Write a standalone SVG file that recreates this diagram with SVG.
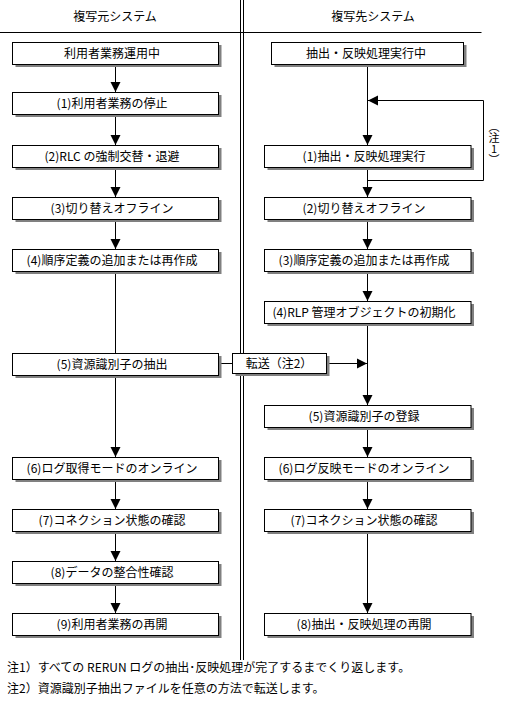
<svg xmlns="http://www.w3.org/2000/svg" width="509" height="713" viewBox="0 0 509 713">
<style>
text{font-family:"Noto Sans CJK JP","Noto Sans",sans-serif;font-size:12px;fill:#000}
.c{text-anchor:middle}
.box{fill:#fff;stroke:#000;stroke-width:1}
.sh{fill:#808080}
.ln{stroke:#000;stroke-width:1;fill:none}
.ah{fill:#000}
</style>
<defs>
<g id="shL"><rect class="sh" x="15.5" y="3" width="206" height="22"/><rect class="box" x="12.5" y="0.5" width="206" height="22"/></g>
<g id="shR"><rect class="sh" x="267.5" y="3" width="206.5" height="22"/><rect class="box" x="264.5" y="0.5" width="206.5" height="22"/></g>
</defs>
<rect width="509" height="713" fill="#fff"/>
<g id="frame">
<line class="ln" x1="0" y1="32.5" x2="481.5" y2="32.5"/>
<line class="ln" x1="240.5" y1="0" x2="240.5" y2="660"/>
<line class="ln" x1="243.5" y1="0" x2="243.5" y2="660"/>
<text class="c" x="115" y="21">複写元システム</text>
<text class="c" x="373" y="21">複写先システム</text>
</g>
<g id="connectors">
<line class="ln" x1="115.5" y1="64" x2="115.5" y2="92"/>
<line class="ln" x1="115.5" y1="114" x2="115.5" y2="145"/>
<line class="ln" x1="115.5" y1="167" x2="115.5" y2="197"/>
<line class="ln" x1="115.5" y1="219" x2="115.5" y2="249"/>
<line class="ln" x1="115.5" y1="271" x2="115.5" y2="353"/>
<line class="ln" x1="115.5" y1="375" x2="115.5" y2="457"/>
<line class="ln" x1="115.5" y1="479" x2="115.5" y2="509"/>
<line class="ln" x1="115.5" y1="531" x2="115.5" y2="561"/>
<line class="ln" x1="115.5" y1="583" x2="115.5" y2="613"/>
<polygon class="ah" points="110.5,82 120.5,82 115.5,92"/>
<polygon class="ah" points="110.5,135 120.5,135 115.5,145"/>
<polygon class="ah" points="110.5,187 120.5,187 115.5,197"/>
<polygon class="ah" points="110.5,239 120.5,239 115.5,249"/>
<polygon class="ah" points="110.5,447 120.5,447 115.5,457"/>
<polygon class="ah" points="110.5,499 120.5,499 115.5,509"/>
<polygon class="ah" points="110.5,551 120.5,551 115.5,561"/>
<polygon class="ah" points="110.5,603 120.5,603 115.5,613"/>
<line class="ln" x1="367.5" y1="64" x2="367.5" y2="145"/>
<line class="ln" x1="367.5" y1="167" x2="367.5" y2="197"/>
<line class="ln" x1="367.5" y1="219" x2="367.5" y2="249"/>
<line class="ln" x1="367.5" y1="271" x2="367.5" y2="301"/>
<line class="ln" x1="367.5" y1="323" x2="367.5" y2="405"/>
<line class="ln" x1="367.5" y1="427" x2="367.5" y2="457"/>
<line class="ln" x1="367.5" y1="479" x2="367.5" y2="509"/>
<line class="ln" x1="367.5" y1="531" x2="367.5" y2="613"/>
<polyline class="ln" points="367.5,180.5 483.5,180.5 483.5,100.5 368,100.5"/>
<polygon class="ah" points="368,100.5 378,95.5 378,105.5"/>
<polygon class="ah" points="362.5,135 372.5,135 367.5,145"/>
<polygon class="ah" points="362.5,187 372.5,187 367.5,197"/>
<polygon class="ah" points="362.5,239 372.5,239 367.5,249"/>
<polygon class="ah" points="362.5,291 372.5,291 367.5,301"/>
<polygon class="ah" points="362.5,395 372.5,395 367.5,405"/>
<polygon class="ah" points="362.5,447 372.5,447 367.5,457"/>
<polygon class="ah" points="362.5,499 372.5,499 367.5,509"/>
<polygon class="ah" points="362.5,603 372.5,603 367.5,613"/>
<line class="ln" x1="218.5" y1="363.5" x2="232.5" y2="363.5"/>
<line class="ln" x1="326.5" y1="363.5" x2="367" y2="363.5"/>
<polygon class="ah" points="357,358.5 367,363.5 357,368.5"/>
<text x="494" y="121" writing-mode="vertical-rl" style="text-orientation:upright;font-size:11px">（注1）</text>
</g>
<g id="L0"><use href="#shL" y="42"/><text class="c" x="112" y="58">利用者業務運用中</text></g>
<g id="L1"><use href="#shL" y="92"/><text class="c" x="112" y="108">(1)利用者業務の停止</text></g>
<g id="L2"><use href="#shL" y="145"/><text class="c" x="112" y="161">(2)RLC の強制交替・退避</text></g>
<g id="L3"><use href="#shL" y="197"/><text class="c" x="112" y="213">(3)切り替えオフライン</text></g>
<g id="L4"><use href="#shL" y="249"/><text class="c" x="112" y="265">(4)順序定義の追加または再作成</text></g>
<g id="L5"><use href="#shL" y="353"/><text class="c" x="112" y="369">(5)資源識別子の抽出</text></g>
<g id="L6"><use href="#shL" y="457"/><text class="c" x="112" y="473">(6)ログ取得モードのオンライン</text></g>
<g id="L7"><use href="#shL" y="509"/><text class="c" x="112" y="525">(7)コネクション状態の確認</text></g>
<g id="L8"><use href="#shL" y="561"/><text class="c" x="112" y="577">(8)データの整合性確認</text></g>
<g id="L9"><use href="#shL" y="613"/><text class="c" x="112" y="629">(9)利用者業務の再開</text></g>
<g id="R0"><rect class="sh" x="274.5" y="45" width="192" height="22"/><rect class="box" x="271.5" y="42.5" width="192" height="22"/><text class="c" x="366" y="58">抽出・反映処理実行中</text></g>
<g id="R1"><use href="#shR" y="145"/><text class="c" x="364" y="161">(1)抽出・反映処理実行</text></g>
<g id="R2"><use href="#shR" y="197"/><text class="c" x="364" y="213">(2)切り替えオフライン</text></g>
<g id="R3"><use href="#shR" y="249"/><text class="c" x="364" y="265">(3)順序定義の追加または再作成</text></g>
<g id="R4"><use href="#shR" y="301"/><text class="c" x="364" y="317">(4)RLP 管理オブジェクトの初期化</text></g>
<g id="R5"><use href="#shR" y="405"/><text class="c" x="364" y="421">(5)資源識別子の登録</text></g>
<g id="R6"><use href="#shR" y="457"/><text class="c" x="364" y="473">(6)ログ反映モードのオンライン</text></g>
<g id="R7"><use href="#shR" y="509"/><text class="c" x="364" y="525">(7)コネクション状態の確認</text></g>
<g id="R8"><use href="#shR" y="613"/><text class="c" x="364" y="629">(8)抽出・反映処理の再開</text></g>
<g id="T"><rect class="sh" x="235.5" y="356" width="94" height="20"/><rect class="box" x="232.5" y="353.5" width="94" height="20"/><text class="c" x="279" y="368">転送（注2）</text></g>
<g id="notes">
<text x="7" y="672">注1）すべての RERUN ログの抽出･反映処理が完了するまでくり返します。</text>
<text x="7" y="693">注2）資源識別子抽出ファイルを任意の方法で転送します。</text>
</g>
</svg>
